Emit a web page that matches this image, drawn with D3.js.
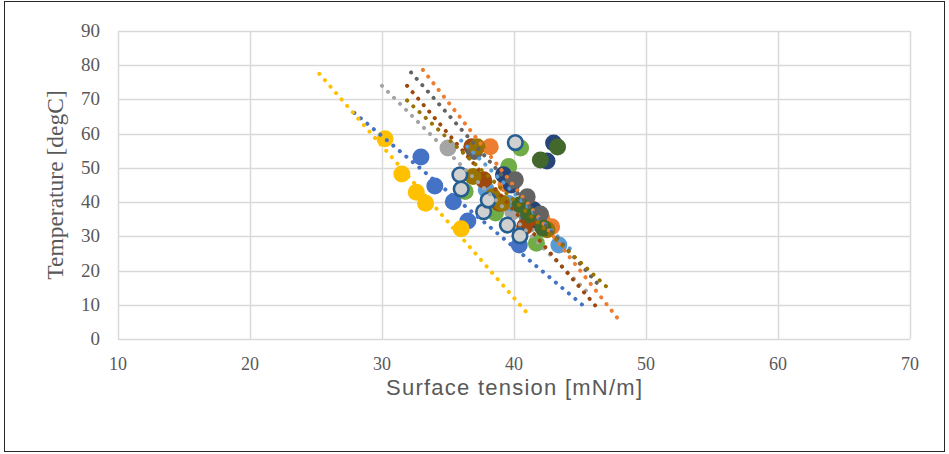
<!DOCTYPE html>
<html>
<head>
<meta charset="utf-8">
<script src="https://cdn.jsdelivr.net/npm/d3@7"></script>
<style>
  body { margin: 0; background: #fff; }
  svg { display: block; }
</style>
</head>
<body>
<main></main>
<script>
// axis ticks
let xTicks = [10, 20, 30, 40, 50, 60, 70];
let yTicks = [0, 10, 20, 30, 40, 50, 60, 70, 80, 90];

// series values, [surface tension, temperature]
let s1 = [[32.95, 53.2], [34.0, 44.7], [35.4, 40.1], [36.5, 34.5], [40.4, 27.5]];
let s2 = [[38.2, 56.2], [39.4, 45.2], [41.2, 38.5], [42.1, 35.3], [42.85, 32.8]];
let s3 = [[35.0, 55.8], [38.3, 41.6], [39.9, 37.2], [41.2, 33.5]];
let s4 = [[30.23, 58.5], [31.5, 48.2], [32.6, 42.9], [33.3, 39.7], [36.0, 32.2]];
let s5 = [[37.9, 43.6], [39.6, 39.6], [41.0, 35.5], [43.4, 27.5]];
let s6 = [[36.3, 43.1], [38.6, 36.8], [39.6, 50.4], [40.5, 55.8], [41.7, 28.0]];
let s7 = [[39.2, 48.0], [39.8, 45.0], [41.5, 37.7], [41.7, 34.8], [42.5, 52.0], [43.0, 57.3]];
let s8 = [[36.8, 56.2], [37.7, 46.5], [38.9, 39.7], [40.8, 32.8], [41.6, 35.5]];
let s9 = [[37.0, 54.8], [40.1, 46.5], [41.0, 41.6], [42.0, 36.5]];
let s10 = [[37.2, 56.2], [36.9, 47.5], [38.4, 41.6], [39.1, 39.7], [42.5, 31.9]];
let s11 = [[35.9, 48.0], [36.0, 43.8], [37.7, 37.2], [38.05, 40.6], [39.5, 33.3], [40.45, 30.2], [40.1, 57.4]];
let s12 = [[40.45, 39.2], [41.1, 36.3], [42.2, 32.4], [42.0, 52.3], [43.3, 56.1]];

// trendline ends, [x1, y1, x2, y2]
let t1 = [27.9, 66.1, 45.2, 9.9];
let t2 = [33.1, 78.65, 47.8, 6.3];
let t3 = [30.0, 74.0, 45.9, 12.4];
let t4 = [25.25, 77.5, 40.9, 8.0];
let t5 = [36.0, 58.0, 44.6, 25.0];
let t8 = [31.9, 74.0, 46.2, 9.6];
let t9 = [32.2, 77.9, 46.3, 16.3];
let t10 = [31.9, 69.7, 47.0, 15.3];

let series = [
  { pts: s1, fill: '#4472C4' },
  { pts: s2, fill: '#ED7D31' },
  { pts: s3, fill: '#A5A5A5' },
  { pts: s4, fill: '#FFC000' },
  { pts: s5, fill: '#5B9BD5' },
  { pts: s6, fill: '#70AD47' },
  { pts: s7, fill: '#264478' },
  { pts: s8, fill: '#9E480E' },
  { pts: s9, fill: '#636363' },
  { pts: s10, fill: '#997300' },
  { pts: s11, fill: '#D0D0D0', stroke: '#255E91' },
  { pts: s12, fill: '#43682B' }
];

let trends = [
  { t: t1, color: '#4472C4' },
  { t: t2, color: '#ED7D31' },
  { t: t3, color: '#A5A5A5' },
  { t: t4, color: '#FFC000' },
  { t: t5, color: '#5B9BD5' },
  { t: t8, color: '#9E480E' },
  { t: t9, color: '#636363' },
  { t: t10, color: '#997300' }
];

let width = 949;
let height = 454;
let plot = { left: 118, right: 910, top: 31, bottom: 339 };

let svg = d3.select('main')
  .append('svg')
  .attr('width', width)
  .attr('height', height);

// chart border
svg.append('rect')
  .attr('x', 4.5).attr('y', 1.5)
  .attr('width', 940).attr('height', 450)
  .attr('fill', '#fff')
  .attr('stroke', '#262626')
  .attr('stroke-width', 1);

let x = d3.scaleLinear().domain([10, 70]).range([plot.left, plot.right]);
let y = d3.scaleLinear().domain([0, 90]).range([plot.bottom, plot.top]);

// gridlines
svg.append('g')
  .selectAll('line')
  .data(yTicks)
  .enter().append('line')
  .attr('x1', plot.left).attr('x2', plot.right)
  .attr('y1', d => Math.round(y(d)) + 0.5)
  .attr('y2', d => Math.round(y(d)) + 0.5)
  .attr('stroke', '#D9D9D9')
  .attr('stroke-width', 1.5);

svg.append('g')
  .selectAll('line')
  .data(xTicks)
  .enter().append('line')
  .attr('x1', d => Math.round(x(d)) + 0.5)
  .attr('x2', d => Math.round(x(d)) + 0.5)
  .attr('y1', plot.top).attr('y2', plot.bottom)
  .attr('stroke', '#D9D9D9')
  .attr('stroke-width', 1.5);

// tick labels
svg.append('g')
  .selectAll('text')
  .data(yTicks)
  .enter().append('text')
  .attr('x', 100)
  .attr('y', d => y(d) + 6)
  .attr('text-anchor', 'end')
  .style('font-family', '"Liberation Serif", serif')
  .style('font-size', '19px')
  .style('fill', '#595959')
  .text(d => d);

svg.append('g')
  .selectAll('text')
  .data(xTicks)
  .enter().append('text')
  .attr('x', d => x(d))
  .attr('y', 370)
  .attr('text-anchor', 'middle')
  .style('font-family', '"Liberation Serif", serif')
  .style('font-size', '18px')
  .style('fill', '#595959')
  .text(d => d);

// axis titles
svg.append('text')
  .attr('x', (plot.left + plot.right) / 2)
  .attr('y', 394.5)
  .attr('text-anchor', 'middle')
  .attr('textLength', 256)
  .attr('lengthAdjust', 'spacing')
  .style('font-family', '"Liberation Sans", sans-serif')
  .style('font-size', '22px')
  .style('fill', '#595959')
  .text('Surface tension [mN/m]');

svg.append('text')
  .attr('transform', 'translate(63,' + (plot.top + plot.bottom) / 2 + ') rotate(-90)')
  .attr('text-anchor', 'middle')
  .style('font-family', '"Liberation Serif", serif')
  .style('font-size', '23.5px')
  .style('fill', '#595959')
  .text('Temperature [degC]');

// markers
let markers = svg.append('g');
series.forEach(s => {
  markers.append('g')
    .selectAll('circle')
    .data(s.pts)
    .enter().append('circle')
    .attr('cx', d => x(d[0]))
    .attr('cy', d => y(d[1]))
    .attr('r', s.stroke ? 7.3 : 8.5)
    .attr('fill', s.fill)
    .attr('stroke', s.stroke || 'none')
    .attr('stroke-width', s.stroke ? 2.6 : 0);
});

// dotted trendlines
svg.append('g')
  .selectAll('line')
  .data(trends)
  .enter().append('line')
  .attr('x1', d => x(d.t[0]))
  .attr('y1', d => y(d.t[1]))
  .attr('x2', d => x(d.t[2]))
  .attr('y2', d => y(d.t[3]))
  .attr('stroke', d => d.color)
  .attr('stroke-width', 4)
  .attr('stroke-linecap', 'round')
  .attr('stroke-dasharray', '0.1 8.4');
</script>
</body>
</html>
